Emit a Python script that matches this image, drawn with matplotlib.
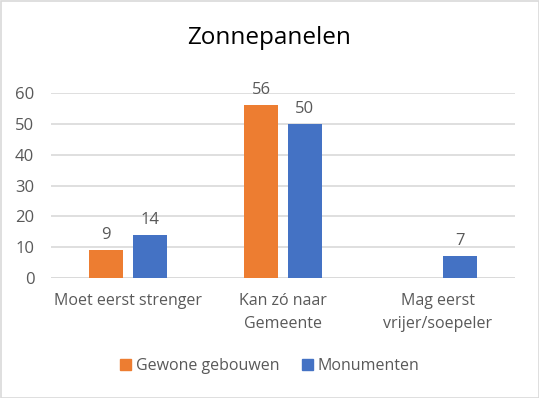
import numpy as np
import matplotlib
matplotlib.use("Agg")
import matplotlib.pyplot as plt
from matplotlib.patches import Rectangle

categories = ["Moet eerst strenger", "Kan zó naar\nGemeente", "Mag eerst\nvrijer/soepeler"]
series_names = ["Gewone gebouwen", "Monumenten"]
gewone = [9, 56, np.nan]
monumenten = [14, 50, 7]
yticks = [0, 10, 20, 30, 40, 50, 60]

colors = ["#ED7D31", "#4472C4"]
text_color = "#595959"
grid_color = "#D9D9D9"

plt.rcParams['font.family'] = ['Open Sans', 'DejaVu Sans']

fig = plt.figure(figsize=(5.39, 3.98), dpi=100)
ax = fig.add_axes([51/539, 1-278/398, (515-51)/539, (278-93)/398])

x = np.arange(len(categories))
w = 0.22
off = 0.142
for vals, o, c in [(gewone, -off, colors[0]), (monumenten, off, colors[1])]:
    v = np.array(vals, dtype=float)
    ax.bar(x + o, np.nan_to_num(v), width=w, color=c, zorder=3)
    for xi, vi in zip(x, v):
        if not np.isnan(vi):
            ax.annotate(f"{int(vi)}", (xi + o, vi), xytext=(0, 5), textcoords="offset points",
                        ha="center", va="bottom", fontsize=12, color=text_color)

ax.set_xlim(-0.5, 2.5)
ax.set_ylim(0, 60)
ax.set_yticks(yticks)
ax.set_xticks(x)
ax.set_xticklabels(categories, fontsize=11.5, color=text_color, linespacing=1.55)
ax.tick_params(axis='y', length=0, pad=12, labelsize=12, labelcolor=text_color)
ax.tick_params(axis='x', length=0, pad=11)
ax.yaxis.grid(True, color=grid_color, linewidth=1.2, zorder=0)
for s in ax.spines.values():
    s.set_visible(False)
ax.axhline(0, color=grid_color, linewidth=1.2, zorder=2)

fig.text(0.5, 1-38/398, "Zonnepanelen", ha="center", va="center", fontsize=17.5, color="#000000")

handles = [Rectangle((0, 0), 1, 1, color=c) for c in colors]
fig.legend(handles, series_names, loc="center", bbox_to_anchor=(0.5, 1-366/398), ncol=2,
           frameon=False, fontsize=11.5, labelcolor=text_color, handlelength=0.7, handleheight=0.7,
           handletextpad=0.3, columnspacing=1.4)

fig.add_artist(Rectangle((0.5/539, 0.5/398), 1-1/539, 1-1/398, transform=fig.transFigure,
                         fill=False, edgecolor=grid_color, linewidth=1.2))

fig.savefig("out.png", dpi=100)
